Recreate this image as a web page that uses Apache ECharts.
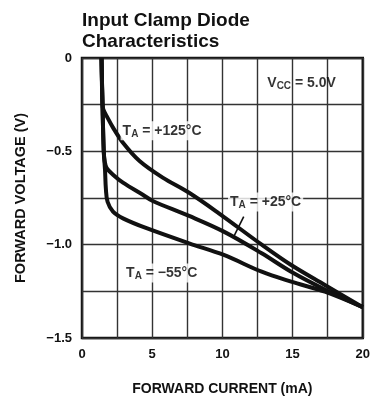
<!DOCTYPE html>
<html>
<head>
<meta charset="utf-8">
<script src="https://cdn.jsdelivr.net/npm/echarts@6/dist/echarts.min.js"></script>
<style>
  html, body { margin: 0; padding: 0; background: #fff; }
  #chart { width: 373px; height: 402px; }
</style>
</head>
<body>
<div id="chart"></div>
<script>
// forward current (mA) / forward voltage (V)
const curr125 = [1.39, 1.46, 1.52, 1.75, 2.21, 2.92, 4.1, 5.75, 7.63, 9.75, 12.8, 14.9, 17.3, 20];
const volt125 = [0, -0.25, -0.275, -0.31, -0.373, -0.454, -0.552, -0.641, -0.722, -0.832, -1.0, -1.109, -1.216, -1.335];

const curr25 = [1.39, 1.46, 1.55, 1.62, 1.76, 2.21, 2.92, 4.36, 5.04, 7.63, 10.1, 12.8, 14.9, 17.3, 20];
const volt25 = [0, -0.25, -0.5, -0.555, -0.59, -0.625, -0.668, -0.734, -0.766, -0.846, -0.93, -1.046, -1.145, -1.24, -1.335];

const curr55 = [1.39, 1.46, 1.55, 1.64, 1.7, 1.82, 2.21, 2.92, 4.6, 7.63, 10.1, 12.8, 14.9, 17.3, 20];
const volt55 = [0, -0.25, -0.5, -0.6, -0.7, -0.77, -0.823, -0.859, -0.912, -0.993, -1.055, -1.145, -1.198, -1.252, -1.335];

const xTicks = [0, 5, 10, 15, 20];
const yTicks = [0, -0.5, -1.0, -1.5];

const zip = (xs, ys) => xs.map((x, i) => [x, ys[i]]);

const chart = echarts.init(document.getElementById('chart'));

const boldFont = "'Liberation Sans', Arial, sans-serif";

const curve = (name, xs, ys) => ({
  name: name,
  type: 'line',
  data: zip(xs, ys),
  smooth: 0.35,
  showSymbol: false,
  lineStyle: { color: '#111', width: 4 },
  z: 5
});

const tLabel = (txt) => '{t|T}{s|A}{t|' + txt + '}';
const rich = {
  t: { fontSize: 14, fontWeight: 'bold', fontFamily: boldFont, color: '#000' },
  s: { fontSize: 10, fontWeight: 'bold', fontFamily: boldFont, color: '#000', padding: [7, 0, 0, 0] }
};

const note = (x, y, text) => ({
  value: [x, y],
  label: { show: true, position: 'right', distance: 0, formatter: text, rich: rich, color: '#000',
    backgroundColor: '#fff', padding: [1, 2, 1, 2] }
});

const option = {
  animation: false,
  title: {
    text: 'Input Clamp Diode\nCharacteristics',
    left: 77,
    top: 5,
    textStyle: { fontSize: 19, fontWeight: 'bold', fontFamily: boldFont, color: '#111', lineHeight: 21 }
  },
  grid: {
    left: 82, right: 8, top: 58, bottom: 64,
    show: true, borderColor: '#111', borderWidth: 2.5, backgroundColor: 'transparent'
  },
  xAxis: {
    type: 'value', min: 0, max: 20, interval: 2.5,
    name: 'FORWARD CURRENT (mA)', nameLocation: 'middle', nameGap: 44,
    nameTextStyle: { fontSize: 14, fontWeight: 'bold', fontFamily: boldFont, color: '#111' },
    axisLine: { show: false }, axisTick: { show: false },
    axisLabel: {
      margin: 10, fontSize: 13, fontWeight: 'bold', fontFamily: boldFont, color: '#111',
      formatter: v => xTicks.indexOf(v) >= 0 ? String(v) : ''
    },
    splitLine: { show: true, lineStyle: { color: '#333', width: 1.4 } }
  },
  yAxis: {
    type: 'value', min: -1.5, max: 0, interval: 0.25,
    name: 'FORWARD VOLTAGE (V)', nameLocation: 'middle', nameGap: 54, nameRotate: 90,
    nameTextStyle: { fontSize: 14.5, fontWeight: 'bold', fontFamily: boldFont, color: '#111' },
    axisLine: { show: false }, axisTick: { show: false },
    axisLabel: {
      margin: 10, fontSize: 13, fontWeight: 'bold', fontFamily: boldFont, color: '#111',
      formatter: v => {
        const hit = yTicks.find(t => Math.abs(t - v) < 1e-6);
        if (hit === undefined) return '';
        return hit === 0 ? '0' : '\u2212' + Math.abs(hit).toFixed(1);
      }
    },
    splitLine: { show: true, lineStyle: { color: '#333', width: 1.4 } }
  },
  series: [
    curve('+125°C', curr125, volt125),
    curve('+25°C', curr25, volt25),
    curve('-55°C', curr55, volt55),
    {
      // leader line from the +25°C label to its curve
      type: 'line',
      data: [[11.52, -0.85], [10.81, -0.957]],
      showSymbol: false,
      lineStyle: { color: '#111', width: 1.6 },
      z: 6
    },
    {
      type: 'scatter',
      symbolSize: 0,
      z: 10,
      data: [
        note(2.75, -0.39, tLabel(' = +125°C')),
        note(10.4, -0.771, tLabel(' = +25°C')),
        note(3.0, -1.152, tLabel(' = \u221255°C')),
        {
          value: [13.2, -0.134],
          label: { show: true, position: 'right', distance: 0, color: '#000',
            formatter: '{t|V}{s|CC}{t| = 5.0V}', rich: rich }
        }
      ]
    }
  ]
};

chart.setOption(option);
</script>
</body>
</html>
